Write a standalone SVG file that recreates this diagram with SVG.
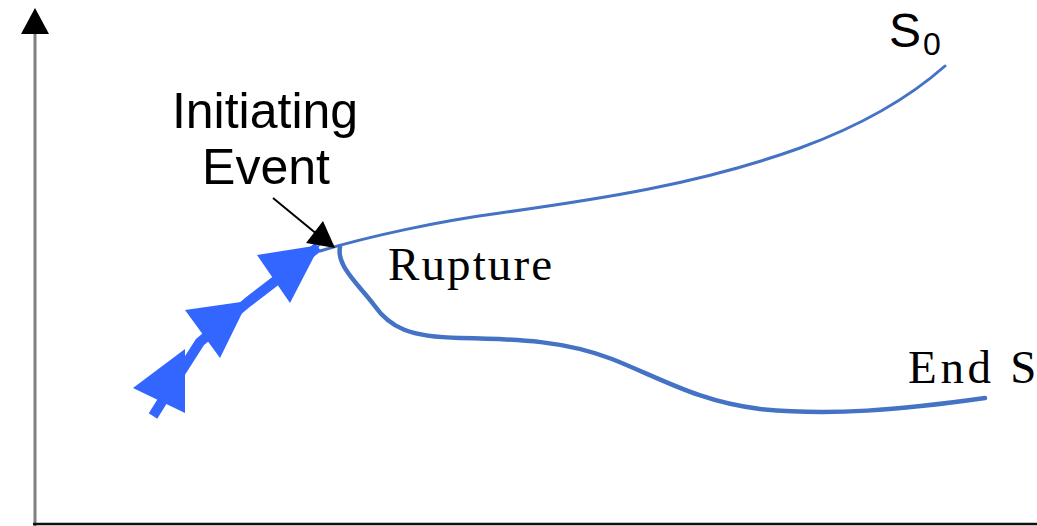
<svg xmlns="http://www.w3.org/2000/svg" width="1037" height="526" viewBox="0 0 1037 526">
<style>
.curve{fill:none;stroke:#4472C4;stroke-linecap:round}
.sans{font-family:"Liberation Sans",Arial,sans-serif;fill:#000}
.serif{font-family:"Liberation Serif","Times New Roman",serif;fill:#000}
.blue{fill:#3366FF}
</style>
<rect width="1037" height="526" fill="#fff"/>
<g id="axes">
<line x1="35" y1="30" x2="35" y2="526" stroke="#808080" stroke-width="3"/>
<polygon points="35,8 49,34 21,34" fill="#000"/>
<line x1="33" y1="524" x2="1037" y2="524" stroke="#111" stroke-width="2.5"/>
</g>
<g id="connectors">
<path id="s0-curve" class="curve" stroke-width="3" d="M320,251 C370,236 440,221 500,213 C600,199 700,184 800,148 C860,126 910,97 945,66"/>
<path id="end-curve" class="curve" stroke-width="4.5" d="M340,247 C336,266 360,286 374,305 C390,328 410,337 460,338 C520,339 565,341 612,359 C662,379 700,402 760,409 C830,416 900,410 985,398"/>
<g id="blue-arrows">
<polyline points="153,416 168,392 200,342 248,302 278,279 318,247" fill="none" stroke="#3366FF" stroke-width="10" stroke-linejoin="round"/>
<polygon class="blue" points="133,388 185,349 185,413"/>
<polygon class="blue" points="185,310 248,301 220,358"/>
<polygon class="blue" points="257,255 320,245 290,303"/>
</g>
<g id="event-arrow">
<line x1="273" y1="198" x2="318" y2="235" stroke="#000" stroke-width="2"/>
<polygon points="335,248 306,243 323,221" fill="#000"/>
</g>
</g>
<g id="label-initiating">
<text class="sans" x="265" y="128" font-size="50" text-anchor="middle">Initiating</text>
<text class="sans" x="266" y="184" font-size="50" text-anchor="middle">Event</text>
</g>
<g id="label-s0">
<text class="sans" x="889" y="47" font-size="48">S</text>
<text class="sans" x="923" y="55" font-size="32">0</text>
</g>
<g id="label-rupture">
<text class="serif" x="388" y="280" font-size="47" textLength="164" lengthAdjust="spacing">Rupture</text>
</g>
<g id="label-end">
<text class="serif" x="908" y="383" font-size="47" textLength="211" lengthAdjust="spacing">End State</text>
</g>
</svg>
